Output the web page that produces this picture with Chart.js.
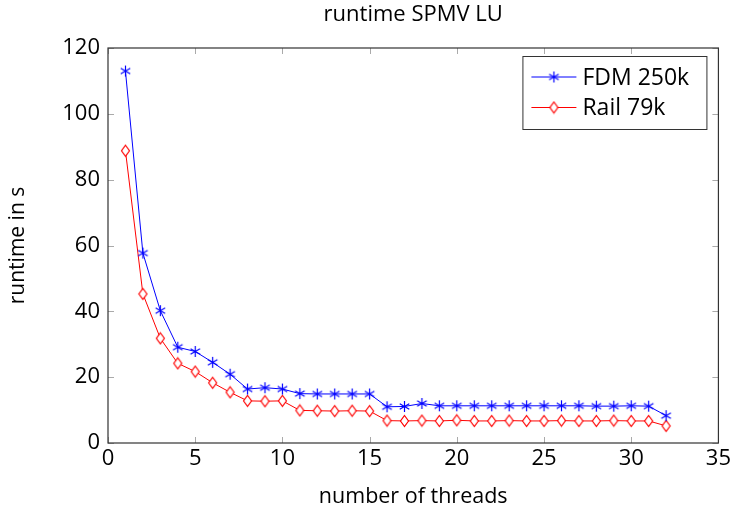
<!DOCTYPE html>
<html>
<head>
<meta charset="utf-8">
<script src="https://cdn.jsdelivr.net/npm/chart.js@4.4.1/dist/chart.umd.min.js"></script>
<style>
  html, body { margin: 0; padding: 0; background: #fff; }
  #wrap { width: 734px; height: 510px; }
</style>
</head>
<body>
<div id="wrap"><canvas id="runtimeChart"></canvas></div>
<script>
// Data
const threads = [1, 2, 3, 4, 5, 6, 7, 8, 9, 10, 11, 12, 13, 14, 15, 16,
                 17, 18, 19, 20, 21, 22, 23, 24, 25, 26, 27, 28, 29, 30, 31, 32];
const fdm250k = [113, 57.7, 40.2, 29.1, 27.8, 24.5, 20.9, 16.4, 16.8, 16.4, 15.0, 14.9,
                 14.9, 14.9, 14.9, 11.0, 11.1, 12.0, 11.3, 11.3, 11.3, 11.3, 11.3, 11.3,
                 11.3, 11.3, 11.3, 11.2, 11.2, 11.3, 11.2, 8.3];
const rail79k = [88.8, 45.3, 31.8, 24.2, 21.7, 18.3, 15.4, 12.8, 12.7, 12.8, 9.9, 9.8,
                 9.7, 9.8, 9.7, 6.8, 6.7, 6.8, 6.7, 6.9, 6.7, 6.7, 6.8, 6.7,
                 6.7, 6.8, 6.7, 6.7, 6.8, 6.7, 6.7, 5.2];
const seriesLabels = ['FDM 250k', 'Rail 79k'];
const xTicks = [0, 5, 10, 15, 20, 25, 30, 35];
const yTicks = [0, 20, 40, 60, 80, 100, 120];

const FONT = '"Open Sans", "DejaVu Sans", sans-serif';

// pgfplots-like markers as small canvases
function asteriskMarker(color, r) {
    const c = document.createElement('canvas');
    const s = Math.ceil(r * 2 + 2);
    c.width = s; c.height = s;
    const g = c.getContext('2d');
    g.strokeStyle = color;
    g.lineWidth = 1.2;
    const m = s / 2;
    [90, 30, -30].forEach(a => {
        const rad = a * Math.PI / 180;
        g.beginPath();
        g.moveTo(m - r * Math.cos(rad), m - r * Math.sin(rad));
        g.lineTo(m + r * Math.cos(rad), m + r * Math.sin(rad));
        g.stroke();
    });
    return c;
}

function diamondMarker(color, w, h) {
    const c = document.createElement('canvas');
    c.width = Math.ceil(w * 2 + 3); c.height = Math.ceil(h * 2 + 3);
    const g = c.getContext('2d');
    const mx = c.width / 2, my = c.height / 2;
    g.fillStyle = '#fff';
    g.strokeStyle = color;
    g.lineWidth = 1.2;
    g.beginPath();
    g.moveTo(mx, my - h);
    g.lineTo(mx + w, my);
    g.lineTo(mx, my + h);
    g.lineTo(mx - w, my);
    g.closePath();
    g.fill();
    g.stroke();
    return c;
}

const blueMark = asteriskMarker('#0000ff', 5.5);
const redMark = diamondMarker('#ff0000', 4, 5.5);

// ticks pointing inward on all four sides, plus the frame and the legend box
const framePlugin = {
    id: 'frame',
    afterDraw(chart) {
        const { ctx, chartArea: a, scales } = chart;
        ctx.save();
        ctx.strokeStyle = '#aaaaaa';
        ctx.lineWidth = 1;
        const len = 6;
        xTicks.forEach(v => {
            const px = Math.round(scales.x.getPixelForValue(v)) + 0.5;
            ctx.beginPath();
            ctx.moveTo(px, a.bottom); ctx.lineTo(px, a.bottom - len);
            ctx.moveTo(px, a.top); ctx.lineTo(px, a.top + len);
            ctx.stroke();
        });
        yTicks.forEach(v => {
            const py = Math.round(scales.y.getPixelForValue(v)) + 0.5;
            ctx.beginPath();
            ctx.moveTo(a.left, py); ctx.lineTo(a.left + len, py);
            ctx.moveTo(a.right, py); ctx.lineTo(a.right - len, py);
            ctx.stroke();
        });
        ctx.strokeStyle = '#333333';
        ctx.lineWidth = 1.2;
        ctx.strokeRect(a.left, a.top, a.right - a.left, a.bottom - a.top);

        // legend
        const bx = a.right - 196, by = a.top + 8, bw = 184, bh = 73;
        ctx.fillStyle = '#fff';
        ctx.fillRect(bx, by, bw, bh);
        ctx.strokeStyle = '#333333';
        ctx.lineWidth = 1;
        ctx.strokeRect(bx + 0.5, by + 0.5, bw, bh);
        const marks = [blueMark, redMark];
        chart.data.datasets.forEach((ds, i) => {
            const ly = by + 21 + i * 30.5;
            ctx.strokeStyle = ds.borderColor;
            ctx.lineWidth = 1;
            ctx.beginPath();
            ctx.moveTo(bx + 9, ly); ctx.lineTo(bx + 54, ly);
            ctx.stroke();
            const m = marks[i];
            ctx.drawImage(m, bx + 31.5 - m.width / 2, ly - m.height / 2);
            ctx.fillStyle = '#000';
            ctx.font = '23px ' + FONT;
            ctx.textBaseline = 'middle';
            ctx.textAlign = 'left';
            ctx.fillText(ds.label, bx + 60, ly + 1);
        });
        ctx.restore();
    }
};

const ctx = document.getElementById('runtimeChart').getContext('2d');
new Chart(ctx, {
    type: 'line',
    data: {
        datasets: [
            {
                label: seriesLabels[0],
                data: threads.map((t, i) => ({ x: t, y: fdm250k[i] })),
                borderColor: '#0000ff',
                borderWidth: 1,
                pointStyle: blueMark,
                pointRadius: 6
            },
            {
                label: seriesLabels[1],
                data: threads.map((t, i) => ({ x: t, y: rail79k[i] })),
                borderColor: '#ff0000',
                borderWidth: 1,
                pointStyle: redMark,
                pointRadius: 6
            }
        ]
    },
    options: {
        responsive: true,
        maintainAspectRatio: false,
        animation: false,
        layout: { padding: { left: 0, right: 14, top: 0, bottom: 0 } },
        plugins: {
            legend: { display: false },
            tooltip: { enabled: false },
            title: {
                display: true,
                text: 'runtime SPMV LU',
                fullSize: false,
                color: '#000',
                font: { family: FONT, size: 22, weight: 'normal' },
                padding: { top: 2, bottom: 19.6 }
            }
        },
        scales: {
            x: {
                type: 'linear',
                min: 0,
                max: 35,
                afterBuildTicks: s => { s.ticks = xTicks.map(v => ({ value: v })); },
                afterFit: s => { s.height = 67; },
                grid: { display: false, drawTicks: false },
                border: { display: false },
                ticks: {
                    color: '#000',
                    padding: 3,
                    maxRotation: 0,
                    font: { family: FONT, size: 22 }
                },
                title: {
                    display: true,
                    text: 'number of threads',
                    color: '#000',
                    font: { family: FONT, size: 21.5 },
                    padding: { top: 0, bottom: 0 }
                }
            },
            y: {
                type: 'linear',
                min: 0,
                max: 120,
                afterBuildTicks: s => { s.ticks = yTicks.map(v => ({ value: v })); },
                afterFit: s => { s.width = 108; },
                grid: { display: false, drawTicks: false },
                border: { display: false },
                ticks: {
                    color: '#000',
                    padding: 8,
                    font: { family: FONT, size: 22 }
                },
                title: {
                    display: true,
                    text: 'runtime in s',
                    color: '#000',
                    font: { family: FONT, size: 21 },
                    padding: { top: 5, bottom: 0 }
                }
            }
        }
    },
    plugins: [framePlugin]
});
</script>
</body>
</html>
